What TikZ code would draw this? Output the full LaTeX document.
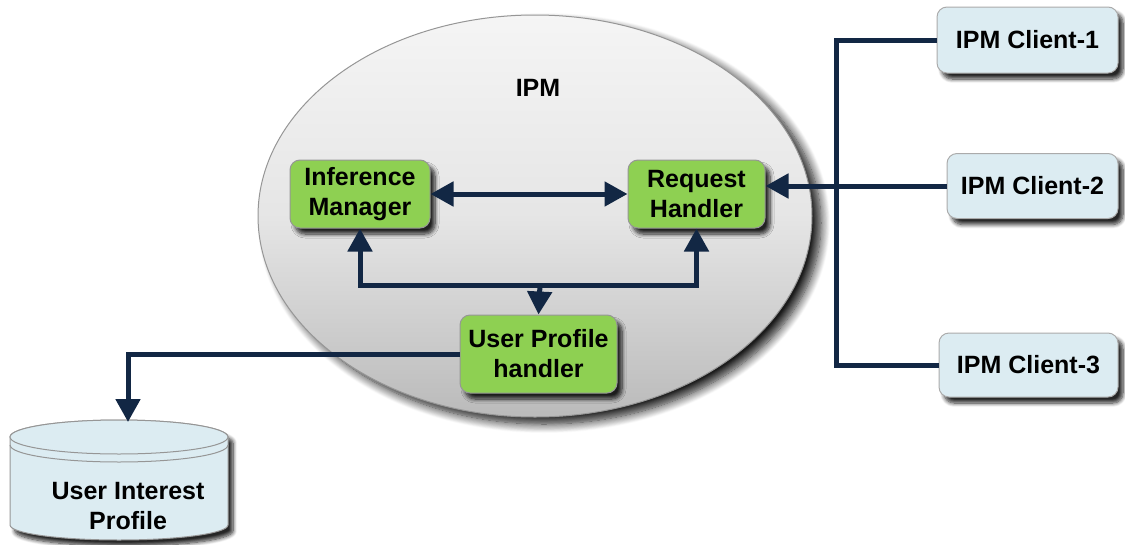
\documentclass[tikz,border=0pt]{standalone}
\usepackage{fontspec}
\setmainfont{Liberation Sans}
\usetikzlibrary{shapes.geometric,shadows.blur,arrows.meta}

\definecolor{boxgreen}{RGB}{142,208,82}
\definecolor{clientblue}{RGB}{220,236,242}
\definecolor{linknavy}{RGB}{18,39,68}
\definecolor{edgegray}{RGB}{150,150,150}

\tikzset{
  lbl/.style={font=\fontsize{25}{30}\selectfont\bfseries, text=black, align=center},
  shadowed/.style={blur shadow={shadow xshift=5pt, shadow yshift=-6pt,
      shadow opacity=85, shadow blur radius=4pt, shadow blur steps=8}},
  compbox/.style={lbl, rectangle, rounded corners=10pt, draw=edgegray, line width=1pt,
      fill=boxgreen, inner sep=0pt, shadowed},
  clientbox/.style={lbl, rectangle, rounded corners=10pt, draw=edgegray!80, line width=1pt,
      fill=clientblue, inner sep=0pt, shadowed},
  conn/.style={draw=linknavy, line width=5pt, line join=miter},
  tip/.tip={Triangle[length=23pt, width=24pt]},
}

\begin{document}
\begin{tikzpicture}[x=1pt, y=-1pt]
\useasboundingbox (0,0) rectangle (1125,544);

% IPM container
\node[ellipse, minimum width=554pt, minimum height=402pt, draw=edgegray, line width=1pt,
      top color=white!96!black, bottom color=black!27, middle color=black!10,
      blur shadow={shadow xshift=9pt, shadow yshift=-7pt, shadow opacity=90,
      shadow blur radius=9pt, shadow blur steps=12}] (ipm) at (535,216) {};
\node[lbl] (ipmlabel) at (538,88) {IPM};

% components inside IPM
\node[compbox, minimum width=140pt, minimum height=68pt] (im) at (360,194) {Inference\\Manager};
\node[compbox, minimum width=137pt, minimum height=68pt] (rh) at (696.5,194) {Request\\Handler};
\node[compbox, minimum width=157pt, minimum height=78pt] (uph) at (538.5,354) {User Profile\\handler};

% clients
\node[clientbox, minimum width=181pt, minimum height=66pt] (c1) at (1027.5,40) {IPM Client-1};
\node[clientbox, minimum width=171pt, minimum height=65pt] (c2) at (1032.5,186) {IPM Client-2};
\node[clientbox, minimum width=179pt, minimum height=64pt] (c3) at (1028.5,365) {IPM Client-3};

% user interest profile store
\begin{scope}
  \path[fill=clientblue, draw=edgegray, line width=1pt, shadowed]
    (10,437) -- (10,525) arc[start angle=180, end angle=0, x radius=109, y radius=15]
    -- (228,437) arc[start angle=0, end angle=-180, x radius=109, y radius=17] -- cycle;
  \draw[edgegray, line width=1pt] (10,445) arc[start angle=180, end angle=0, x radius=109, y radius=17];
  \draw[edgegray, line width=1pt, fill=clientblue] (119,437) ellipse[x radius=109, y radius=17];
\end{scope}
\node[lbl] (db) at (128,506) {User Interest\\Profile};
\coordinate (dbtop) at (128,422);

% connectors
\coordinate (bus) at (540,285);
\coordinate (trunk) at (836,0);
\draw[conn, tip-tip] (im.east) -- (rh.west);
\draw[conn, tip-tip] (im.south) |- (bus) -| (rh.south);
\draw[conn, -tip] (bus) -- (uph.north);
\draw[conn, -tip] (uph.west) -| (dbtop);
\draw[conn] (c1.west) -- (c1.west -| trunk) |- (c3.west);
\draw[conn, -tip] (c2.west) -- (c2.west -| rh.east);
\end{tikzpicture}
\end{document}
